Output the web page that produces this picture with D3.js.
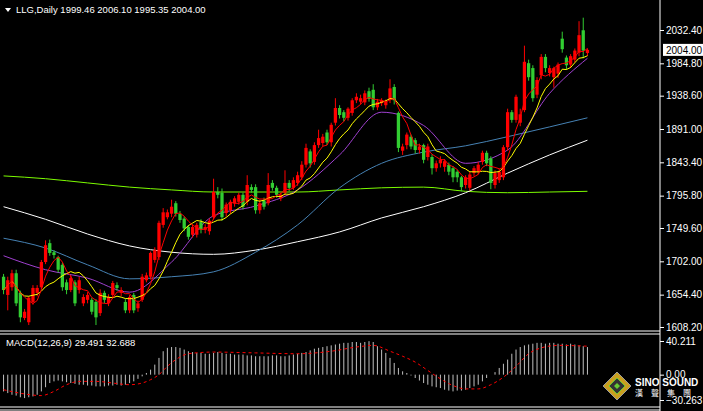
<!DOCTYPE html>
<html>
<head>
<meta charset="utf-8">
<script src="https://cdn.jsdelivr.net/npm/d3@7"></script>
<style>
  body { margin: 0; background: #000; }
  svg { display: block; font-family: "Liberation Sans", Arial, sans-serif; font-size: 10px; }
</style>
</head>
<body>
<div class="chart"></div>
<script>
// daily candles, oldest first
var opens = [1680,1654,1665,1685,1657,1621,1615,1644,1657,1665,1701,1728,1715,1708,1697,1672,1661,1672,1661,1642,
  1647,1647,1644,1628,1657,1642,1654,1668,1657,1644,1632,1654,1635,1647,1675,1680,1704,1708,1754,1765,
  1770,1785,1770,1763,1751,1740,1740,1758,1747,1745,1765,1801,1800,1771,1775,1785,1787,1797,1787,1808,
  1808,1775,1789,1785,1814,1807,1792,1800,1814,1807,1814,1822,1840,1859,1844,1868,1871,1886,1872,1900,
  1921,1915,1907,1914,1932,1930,1929,1945,1947,1922,1928,1925,1933,1951,1914,1860,1868,1880,1875,1861,
  1868,1851,1851,1835,1842,1837,1840,1835,1830,1822,1811,1807,1828,1830,1844,1857,1849,1811,1818,1822,
  1865,1915,1904,1900,1918,1985,1978,1940,1968,1994,1971,1965,1970,2020,1993,1983,1990,2000,2032,1999.46];
var closes = [1661,1675,1685,1642,1622,1630,1650,1664,1664,1701,1725,1714,1711,1690,1665,1661,1678,1642,1675,1651,
  1654,1630,1622,1657,1647,1651,1671,1664,1661,1632,1651,1632,1642,1680,1682,1714,1718,1757,1772,1772,
  1780,1770,1761,1749,1737,1751,1754,1747,1751,1760,1801,1797,1765,1783,1787,1792,1797,1780,1811,1804,
  1775,1785,1780,1811,1807,1797,1797,1814,1807,1818,1825,1840,1864,1842,1868,1878,1880,1872,1897,1921,
  1911,1907,1920,1932,1937,1935,1942,1934,1922,1930,1932,1930,1949,1932,1864,1866,1883,1866,1861,1866,
  1847,1866,1835,1842,1847,1845,1830,1822,1822,1808,1822,1826,1835,1840,1857,1842,1814,1828,1830,1865,
  1915,1904,1937,1912,1987,1965,1935,1961,1994,1978,1978,1978,1983,2005,1982,1995,2003,2025,2003,2004.00];
var highs = [1684,1680,1690,1690,1660,1634,1652,1668,1668,1704,1732,1733,1718,1710,1700,1676,1682,1675,1680,1655,
  1658,1650,1648,1662,1660,1655,1674,1672,1665,1648,1654,1657,1646,1684,1686,1716,1722,1760,1778,1776,
  1790,1788,1774,1766,1754,1755,1757,1762,1755,1763,1820,1808,1806,1786,1790,1795,1800,1800,1825,1812,
  1812,1790,1793,1828,1818,1810,1800,1832,1818,1822,1830,1845,1870,1862,1872,1890,1884,1890,1900,1935,
  1925,1918,1922,1935,1942,1940,1946,1950,1955,1934,1935,1933,1962,1955,1916,1870,1886,1883,1878,1870,
  1870,1870,1855,1846,1852,1848,1843,1838,1833,1824,1825,1830,1838,1844,1860,1860,1852,1832,1834,1868,
  1920,1918,1940,1920,2010,1990,1982,1965,1998,1998,1982,1980,1986,2030,1996,1998,2006,2045,2050,2006.10];
var lows = [1655,1632,1660,1638,1615,1618,1611,1640,1652,1662,1698,1710,1706,1686,1660,1655,1658,1638,1656,1638,
  1642,1626,1611,1624,1642,1638,1650,1660,1652,1628,1628,1628,1630,1644,1672,1676,1700,1704,1750,1762,
  1765,1766,1757,1745,1733,1736,1736,1742,1742,1740,1762,1792,1760,1766,1770,1780,1783,1776,1782,1800,
  1770,1770,1776,1782,1803,1793,1788,1796,1802,1804,1810,1818,1836,1836,1840,1864,1866,1868,1866,1896,
  1906,1902,1903,1910,1928,1926,1925,1930,1918,1918,1924,1920,1928,1926,1858,1854,1862,1862,1856,1856,
  1842,1846,1826,1830,1836,1830,1825,1815,1815,1802,1806,1803,1824,1826,1840,1838,1805,1806,1814,1818,
  1860,1900,1900,1895,1915,1960,1930,1935,1962,1972,1966,1950,1964,2000,1976,1978,1986,1995,1992,1995.35];

// long moving averages, read every 10th bar
var maIdx = [0,10,20,30,40,50,60,70,80,90,100,110,120,130,139];
var ma20 = [1710,1690,1678,1658,1701,1767,1781,1804,1854,1915,1896,1842,1861,1942,1992];
var ma60 = [1735,1721,1697,1677,1680,1687,1715,1754,1807,1842,1858,1867,1880,1894,1907];
var ma120 = [1780,1762,1741,1724,1715,1712,1718,1730,1744,1764,1780,1800,1828,1854,1875];
var ma250 = [1824,1820,1814,1808,1804,1801,1801,1801,1804,1807,1808,1802,1800,1801,1802];

var macdHist = [-20,-22,-24,-25,-27,-28,-27,-26,-24,-20,-15,-10,-8,-7,-8,-9,-10,-11,-12,-12,
  -13,-13,-14,-14,-14,-13,-13,-12,-13,-12,-10,-8,-5,-2,2,6,12,20,28,32,
  33,33,32,30,28,27,26,26,25,25,26,27,26,25,25,24,24,24,23,23,
  22,22,22,22,23,23,22,22,23,24,25,26,27,29,31,32,33,34,35,36,
  37,38,38,39,39,38,39,40,39,34,30,26,20,14,8,4,2,-1,-4,-7,
  -10,-12,-14,-15,-16,-18,-19,-20,-19,-19,-18,-16,-14,-12,-8,-4,0,3,8,13,
  18,25,30,33,35,36,37,38,38,37,38,38,37,37,36,37,36,35,34,33];
var sigIdx = [0,5,9,12,15,18,22,26,30,33,35,37,39,41,44,50,60,70,78,84,88,92,95,98,101,104,107,110,113,116,119,122,125,128,132,139];
var sigVal = [-18,-23,-25,-20,-12,-8,-8,-10,-12,-10,-6,0,10,18,25,27,26,25,28,33,35,28,22,15,5,-5,-13,-17,-17,-12,-3,10,25,32,35,34];

var priceTicks = [2032.40,1984.80,1938.60,1891.00,1843.40,1795.80,1749.60,1702.00,1654.40,1608.20];

var W = 703, H = 411, axisX = 660;
var svg = d3.select('.chart').append('svg').attr('width', W).attr('height', H);
svg.append('rect').attr('width', W).attr('height', H).attr('fill', '#000');

var n = closes.length;
var x = d3.scaleBand().domain(d3.range(n)).range([1, 590]).padding(0.22);
var cx = function(i) { return x(i) + x.bandwidth() / 2; };
var y = d3.scaleLinear().domain([1608.2, 2032.4]).range([327, 30]);
var ym = d3.scaleLinear().domain([-30.263, 40.211]).range([400, 341]);

// short averages from the closes
function sma(p) {
  return closes.map(function(c, i) {
    var s = closes.slice(Math.max(0, i - p + 1), i + 1);
    return d3.mean(s);
  });
}

var lineSparse = d3.line().x(function(d) { return cx(d[0]); }).y(function(d) { return y(d[1]); }).curve(d3.curveMonotoneX);
var lineFull = d3.line().x(function(d, i) { return cx(i); }).y(function(d) { return y(d); });

[[ma250, '#7cfc00'], [ma120, '#ffffff'], [ma60, '#4682b4'], [ma20, '#a040d0']].forEach(function(m) {
  svg.append('path').attr('d', lineSparse(maIdx.map(function(k, j) { return [k, m[0][j]]; })))
    .attr('fill', 'none').attr('stroke', m[1]).attr('stroke-width', 1);
});

// candles
var g = svg.append('g');
d3.range(n).forEach(function(i) {
  var up = closes[i] >= opens[i];
  var col = up ? '#ff0000' : '#32cd32';
  g.append('line').attr('x1', cx(i)).attr('x2', cx(i))
    .attr('y1', y(highs[i])).attr('y2', y(lows[i])).attr('stroke', col);
  var top = y(Math.max(opens[i], closes[i])), bot = y(Math.min(opens[i], closes[i]));
  g.append('rect').attr('x', x(i)).attr('width', x.bandwidth())
    .attr('y', top).attr('height', Math.max(1, bot - top)).attr('fill', col);
});

svg.append('path').attr('d', lineFull(sma(10))).attr('fill', 'none').attr('stroke', '#ffff00');
svg.append('path').attr('d', lineFull(sma(5))).attr('fill', 'none').attr('stroke', '#ff0000');

// panel frames
svg.append('line').attr('x1', axisX).attr('x2', axisX).attr('y1', 0).attr('y2', H).attr('stroke', '#fff');
[331, 334, 407, 410].forEach(function(v) {
  svg.append('line').attr('x1', 0).attr('x2', axisX).attr('y1', v).attr('y2', v).attr('stroke', '#fff');
});

// price axis
var ax = svg.append('g').attr('transform', 'translate(' + axisX + ',0)')
  .call(d3.axisRight(y).tickValues(priceTicks).tickSize(4).tickFormat(d3.format('.2f')));
ax.select('.domain').remove();
ax.selectAll('line').attr('stroke', '#fff');
ax.selectAll('text').attr('fill', '#fff').attr('font-size', 10).attr('x', 6);

// last price marker
var lp = closes[n - 1];
svg.append('rect').attr('x', axisX + 3).attr('y', y(lp) - 6).attr('width', 40).attr('height', 12).attr('fill', '#fff');
svg.append('text').attr('x', axisX + 6).attr('y', y(lp) + 4).attr('fill', '#000').text(lp.toFixed(2));

// header
svg.append('path').attr('d', 'M5,8 L11,8 L8,12 Z').attr('fill', '#fff');
svg.append('text').attr('x', 16).attr('y', 13).attr('fill', '#fff').attr('font-size', 9.5)
  .text('LLG,Daily  1999.46 2006.10 1995.35 2004.00');

// MACD
svg.append('g').selectAll('line').data(macdHist).join('line')
  .attr('x1', function(d, i) { return cx(i); }).attr('x2', function(d, i) { return cx(i); })
  .attr('y1', ym(0)).attr('y2', function(d) { return ym(d); }).attr('stroke', '#c0c0c0');
svg.append('path')
  .attr('d', d3.line().x(function(d) { return cx(d[0]); }).y(function(d) { return ym(d[1]); }).curve(d3.curveMonotoneX)(sigIdx.map(function(k, j) { return [k, sigVal[j]]; })))
  .attr('fill', 'none').attr('stroke', '#ff0000').attr('stroke-dasharray', '3,3');
svg.append('text').attr('x', 6).attr('y', 346).attr('fill', '#fff').attr('font-size', 9.5)
  .text('MACD(12,26,9) 29.491 32.688');
var mt = svg.append('g').attr('transform', 'translate(' + axisX + ',0)')
  .call(d3.axisRight(ym).tickValues([40.211, 0, -30.263]).tickSize(4).tickFormat(function(d) { return d === 0 ? '0.00' : d3.format('.3f')(d); }));
mt.select('.domain').remove();
mt.selectAll('line').attr('stroke', '#fff');
mt.selectAll('text').attr('fill', '#fff').attr('x', 6);

// logo
var lg = svg.append('g').attr('transform', 'translate(617,386)');
lg.append('path').attr('d', 'M0,-14 L14,0 L0,14 L-14,0 Z').attr('fill', '#c8a020').attr('stroke', '#999');
lg.append('path').attr('d', 'M0,-8 L8,0 L0,8 L-8,0 Z').attr('fill', '#333').attr('stroke', '#6c3');
lg.append('path').attr('d', 'M0,-3 L3,0 L0,3 L-3,0 Z').attr('fill', '#6c3');
svg.append('text').attr('x', 635).attr('y', 386).attr('fill', '#fff').attr('font-weight', 'bold').attr('font-size', 10).text('SINO SOUND');
svg.append('text').attr('x', 635).attr('y', 396).attr('fill', '#fff').attr('font-size', 8)
  .attr('font-family', 'Noto Sans CJK TC').attr('letter-spacing', 8).text('漢聲集團');
</script>
</body>
</html>
